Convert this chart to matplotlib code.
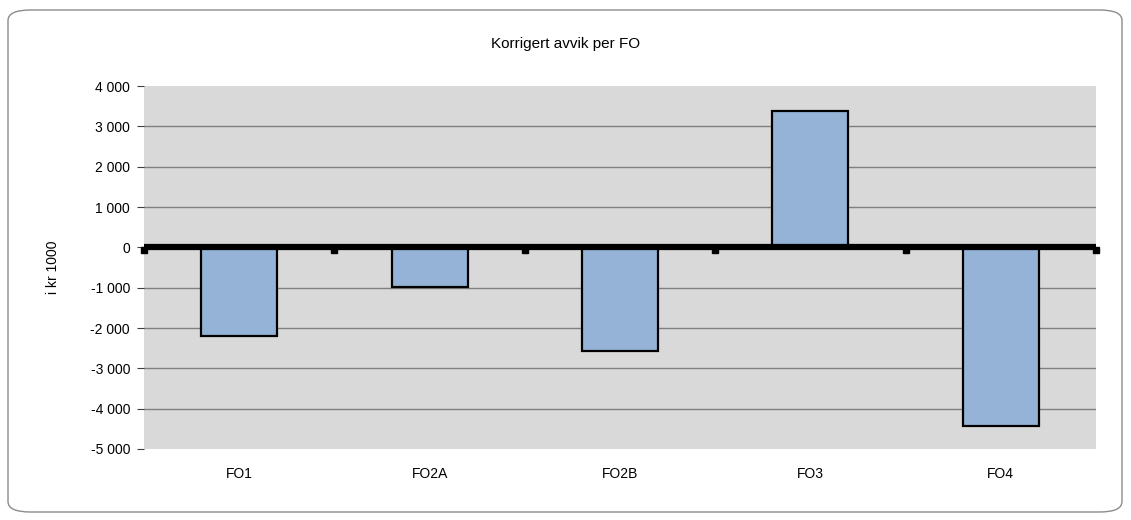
import matplotlib
matplotlib.use("Agg")
import matplotlib.pyplot as plt
from matplotlib.patches import FancyBboxPatch
from matplotlib.ticker import FuncFormatter

# data
categories = ["FO1", "FO2A", "FO2B", "FO3", "FO4"]
avvik = [-2200, -980, -2580, 3390, -4420]
y_ticks = [4000, 3000, 2000, 1000, 0, -1000, -2000, -3000, -4000, -5000]

TITLE = "Korrigert avvik per FO"
YLABEL = "i kr 1000"

plt.rcParams['font.family'] = ['Liberation Sans', 'DejaVu Sans']

fig = plt.figure(figsize=(11.31, 5.2), dpi=100)

# rounded chart frame (behind the axes)
frame = FancyBboxPatch((8 / 1131, 8 / 520), 1114 / 1131, 502 / 520,
                       boxstyle="round,pad=0,rounding_size=0.02",
                       transform=fig.transFigure, facecolor="white",
                       edgecolor="#8c8c8c", linewidth=1.0, zorder=-10)
fig.patches.append(frame)

ax = fig.add_axes([144 / 1131, 1 - 449 / 520, (1096 - 144) / 1131, (449 - 86) / 520])
ax.set_zorder(5)
ax.set_facecolor("#d9d9d9")

x = list(range(len(categories)))
ax.bar(x, avvik, width=0.4, color="#95b3d7", edgecolor="black", linewidth=1.6, zorder=3)

ax.set_xlim(-0.5, len(categories) - 0.5)
ax.set_ylim(-5000, 4000)
ax.set_yticks(y_ticks)
ax.yaxis.set_major_formatter(FuncFormatter(lambda v, p: f"{int(v):,}".replace(",", " ")))

# gridlines, except at the top edge
for v in y_ticks:
    if v not in (4000, 0, -5000):
        ax.axhline(v, color="#808080", linewidth=1.0, zorder=1)
ax.axhline(0, color="black", linewidth=4.5, zorder=4)

# category boundary marks on zero line
for b in [i - 0.5 for i in range(len(categories) + 1)]:
    ax.plot([b], [-60], marker="s", markersize=4, color="black", zorder=5, clip_on=False)

ax.set_xticks(x)
ax.set_xticklabels(categories)
ax.tick_params(axis="x", length=0, pad=13, labelsize=10)
ax.tick_params(axis="y", length=5, color="#404040", labelsize=10, pad=5)
for s in ax.spines.values():
    s.set_visible(False)

ax.set_ylabel(YLABEL, fontsize=10, labelpad=22)
fig.text(0.5, 1 - 44 / 520, TITLE, ha="center", va="center", fontsize=11)

fig.savefig("out.png", dpi=100)
